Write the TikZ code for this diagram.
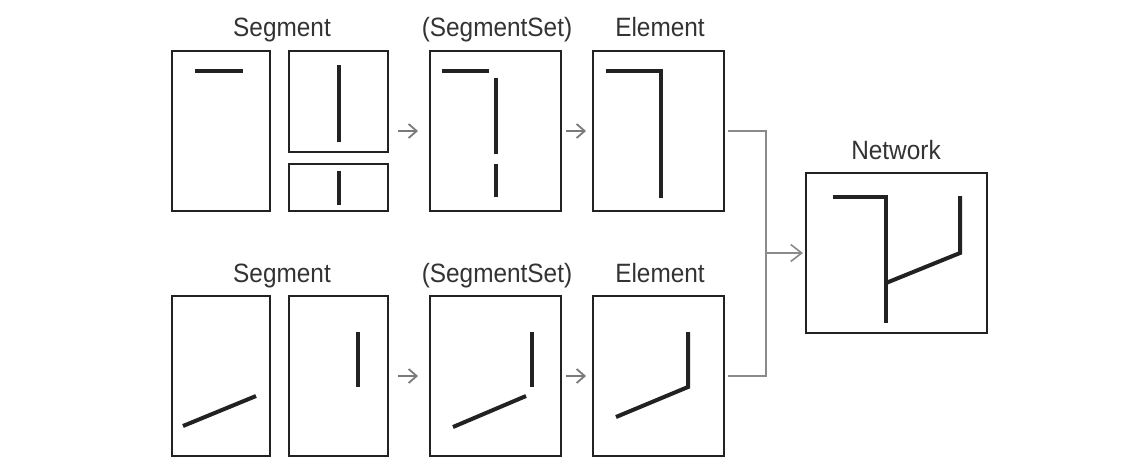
\documentclass[tikz,border=0pt]{standalone}
\usepackage{fontspec}
\setmainfont[FakeStretch=0.92]{Liberation Sans}
\usetikzlibrary{arrows.meta,calc}
\definecolor{frame}{HTML}{222222}
\definecolor{conngray}{HTML}{8A8A8A}
\definecolor{arrgray}{HTML}{7A7A7A}
\definecolor{txt}{HTML}{333333}
\begin{document}
\begin{tikzpicture}[x=1pt,y=-1pt,
  box/.style={draw=frame,line width=2pt,inner sep=0pt,outer sep=0pt,minimum width=#1},
  box/.default=98pt,
  lbl/.style={anchor=base,text=txt,font=\fontsize{26.5}{30}\selectfont},
  seg/.style={line width=4pt,draw=frame,line cap=butt,line join=miter},
  conn/.style={draw=conngray,line width=1.6pt},
  arr/.style={draw=arrgray,line width=1.8pt,-{Straight Barb[length=8pt,width=14pt,line width=1.8pt]}},
  bigarr/.style={conn,-{Straight Barb[length=11pt,width=17pt,line width=1.6pt]}}]
\fill[white] (0,0) rectangle (1143,458);
\useasboundingbox (0,0) rectangle (1143,458);
% top row boxes
\node[box=98pt,minimum height=160pt] (A) at (221,131) {};
\node[box=99pt,minimum height=101pt] (B) at (338.5,101.5) {};
\node[box=99pt,minimum height=47pt] (C) at (338.5,187.5) {};
\node[box=131pt,minimum height=160pt] (D) at (495.5,131) {};
\node[box=131pt,minimum height=160pt] (E) at (658.5,131) {};
% bottom row boxes
\node[box=98pt,minimum height=160pt] (F) at (221,376) {};
\node[box=99pt,minimum height=160pt] (G) at (338.5,376) {};
\node[box=131pt,minimum height=160pt] (H) at (495.5,376) {};
\node[box=131pt,minimum height=160pt] (I) at (658.5,376) {};
% network
\node[box=181pt,minimum height=160pt] (N) at (896.5,253) {};
% labels
\node[lbl] (l1) at (282,36) {Segment};
\node[lbl] (l2) at (497,36) {(SegmentSet)};
\node[lbl] (l3) at (660,36) {Element};
\node[lbl] (l4) at (282,282.5) {Segment};
\node[lbl] (l5) at (497,282.5) {(SegmentSet)};
\node[lbl] (l6) at (660,282) {Element};
\node[lbl] (l7) at (896,159) {Network};
% segments inside boxes
\draw[seg] (195,71) -- (243,71);
\draw[seg] (339,65) -- (339,142);
\draw[seg] (339,171) -- (339,205);
\draw[seg] (442,71) -- (489,71);
\draw[seg] (496,78) -- (496,154);
\draw[seg] (496,164) -- (496,197);
\draw[seg] (606,71) -- (661,71) -- (661,198);
\draw[seg] (183,426) -- (256,396);
\draw[seg] (358,332) -- (358,387);
\draw[seg] (532,332) -- (532,387);
\draw[seg] (453,427) -- (526,396);
\draw[seg] (688,332) -- (688,387) -- (616,417);
\draw[seg] (833,197) -- (886,197) -- (886,323);
\draw[seg] (886,283) -- (960,253) -- (960,196);
% connectors
\draw[arr,shorten <=10pt,shorten >=12pt] (A.center -| B.east) -- (A.center -| D.west);
\draw[arr,shorten <=5pt,shorten >=7pt] (D.east) -- (E.west);
\draw[arr,shorten <=10pt,shorten >=12pt] (G.east) -- (H.west);
\draw[arr,shorten <=5pt,shorten >=7pt] (H.east) -- (I.west);
\coordinate (J) at (765.7,253);
\draw[conn,shorten <=3.5pt] (E.east) -| (J);
\draw[conn,shorten <=3.5pt] (I.east) -| (J);
\draw[bigarr,shorten >=3pt] (J) -- (N.west);
\end{tikzpicture}
\end{document}
